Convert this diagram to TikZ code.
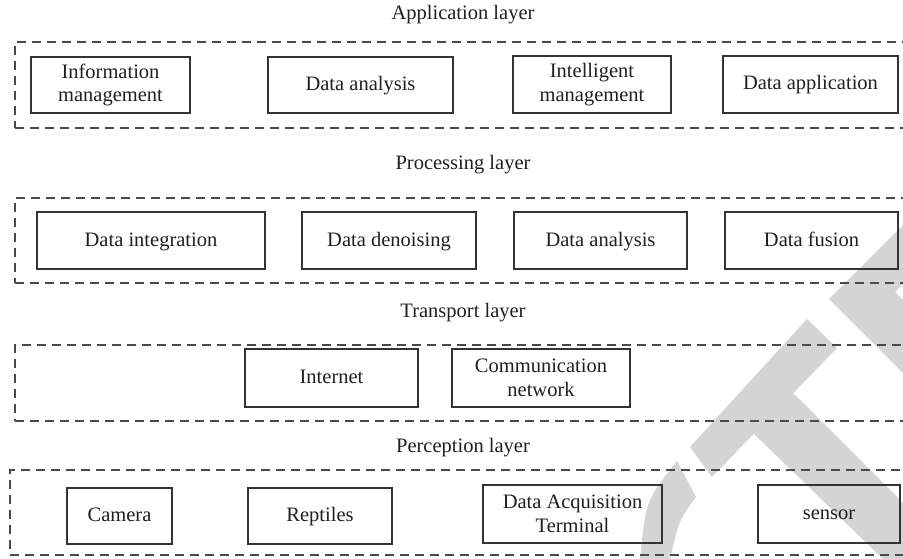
\documentclass[tikz,border=0pt]{standalone}
\usepackage{fontspec}
\setmainfont{Liberation Serif}
\definecolor{wm}{HTML}{D4D4D4}
\definecolor{txt}{HTML}{231F20}
\definecolor{ln}{HTML}{333333}
\definecolor{dl}{HTML}{4A4A4A}
\tikzset{
  bx/.style={draw=ln, line width=1.1pt, inner sep=0pt, align=center, text=txt,
    font=\fontsize{20.5}{23.5}\selectfont},
  one/.style={text height=15pt, text depth=4pt},
  frame/.style={draw=dl, line width=1.2pt, dash pattern=on 9pt off 6pt, inner sep=0pt},
  ttl/.style={anchor=base, text=txt, inner sep=0pt, font=\fontsize{20.5}{23.5}\selectfont},
}
\begin{document}
\begin{tikzpicture}[x=1pt,y=-1pt]
\useasboundingbox (0,0) rectangle (903,559);
\clip (0,0) rectangle (903,559);
\fill[white] (0,0) rectangle (903,559);
% watermark
\fill[wm] (829,299) -- (903,225) -- (903,284) -- (895,292) -- (903,300) -- (903,373) -- cycle;
\fill[wm] (807,319) -- (837,348) -- (712,477) -- (690,447) -- cycle;
\fill[wm] (793,393) -- (903,503) -- (903,559) -- (883,559) -- (753,433) -- cycle;
\fill[wm] (677,461) -- (696,497) .. controls (679,520) .. (670,559) -- (640,559) .. controls (646,500) .. cycle;
% frames
\node[frame, minimum width=900pt, minimum height=86pt] (fapp) at (465,85) {};
\node[frame, minimum width=900pt, minimum height=85pt] (fproc) at (465,240.5) {};
\node[frame, minimum width=900pt, minimum height=76pt] (ftrans) at (465,383) {};
\node[frame, minimum width=905pt, minimum height=85pt] (fperc) at (462.5,512.5) {};
% titles
\node[ttl] (tapp) at (463,20) {Application layer};
\node[ttl] (tproc) at (463,170) {Processing layer};
\node[ttl] (ttrans) at (463,317) {Transport layer};
\node[ttl] (tperc) at (463,452) {Perception layer};
% application
\node[bx, minimum width=159pt, minimum height=56pt] (im) at (110.5,85) {Information\\management};
\node[bx, one, minimum width=185pt, minimum height=56pt] (da) at (360.5,85) {Data analysis};
\node[bx, minimum width=158pt, minimum height=57pt] (intm) at (592,84.5) {Intelligent\\management};
\node[bx, one, minimum width=175pt, minimum height=57pt] (dapp) at (810.5,84.5) {Data application};
% processing
\node[bx, one, minimum width=228pt, minimum height=57pt] (di) at (151,240.5) {Data integration};
\node[bx, one, minimum width=174pt, minimum height=57pt] (dd) at (389,240.5) {Data denoising};
\node[bx, one, minimum width=173pt, minimum height=57pt] (da2) at (600.5,240.5) {Data analysis};
\node[bx, one, minimum width=173pt, minimum height=57pt] (df) at (811.5,240.5) {Data fusion};
% transport
\node[bx, one, minimum width=173pt, minimum height=58pt] (inet) at (331.5,378) {Internet};
\node[bx, minimum width=178pt, minimum height=58pt] (cn) at (541,378) {Communication\\network};
% perception
\node[bx, one, minimum width=105pt, minimum height=56pt] (cam) at (119.5,516) {Camera};
\node[bx, one, minimum width=144pt, minimum height=56pt] (rep) at (320,516) {Reptiles};
\node[bx, minimum width=179pt, minimum height=58pt] (dat) at (572.5,514) {Data Acquisition\\Terminal};
\node[bx, one, minimum width=142pt, minimum height=58pt] (sen) at (829,514) {sensor};
\end{tikzpicture}
\end{document}
